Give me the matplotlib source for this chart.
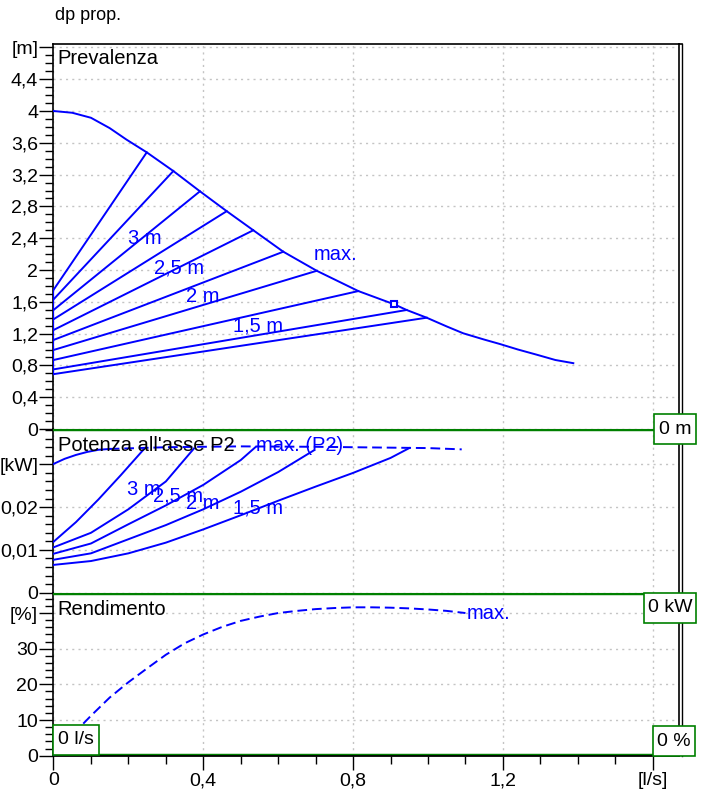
import matplotlib.pyplot as plt
from matplotlib.ticker import MultipleLocator, FixedLocator, FixedFormatter
from matplotlib.patches import Rectangle
from matplotlib.lines import Line2D

plt.rcParams['font.family'] = ['Liberation Sans', 'DejaVu Sans']

# ---- data ----
# head (Prevalenza), max curve
q_max = [0, 0.05, 0.1, 0.15, 0.195, 0.249, 0.32, 0.391, 0.4625, 0.5335,
         0.6136, 0.703, 0.814, 0.91, 0.943, 0.9965, 1.05, 1.094, 1.15,
         1.192, 1.24, 1.29, 1.34, 1.388]
h_max = [4.0, 3.978, 3.915, 3.785, 3.64, 3.48, 3.245, 2.99, 2.74, 2.50,
         2.23, 1.99, 1.735, 1.568, 1.497, 1.40, 1.29, 1.204, 1.125,
         1.069, 1.0, 0.935, 0.868, 0.828]
# proportional pressure lines: head at Q=0 and end point on max curve
h_start = [1.75, 1.63, 1.497, 1.38, 1.245, 1.12, 0.994, 0.868, 0.75, 0.69]
q_end = [0.249, 0.32, 0.391, 0.4625, 0.5335, 0.6136, 0.703, 0.814, 0.943, 0.9965]
h_end = [3.48, 3.245, 2.99, 2.74, 2.50, 2.23, 1.99, 1.735, 1.497, 1.40]
q_duty, h_duty = 0.91, 1.568
head_labels = ['3 m', '2,5 m', '2 m', '1,5 m', 'max.']
head_label_q = [0.2425, 0.336, 0.399, 0.546, 0.754]
head_label_h = [2.40, 2.03, 1.664, 1.296, 2.197]

# shaft power P2 [kW]
p2_max_solid_q = [0, 0.03, 0.06, 0.09, 0.12, 0.15]
p2_max_solid_p = [0.0301, 0.0313, 0.0322, 0.0329, 0.0334, 0.0336]
p2_max_dash_q = [0.15, 0.3, 0.5, 0.7, 0.9, 1.0, 1.09]
p2_max_dash_p = [0.0336, 0.0340, 0.0342, 0.0341, 0.0339, 0.0338, 0.0335]
p2_q = [[0, 0.06, 0.12, 0.18, 0.244],
        [0, 0.1, 0.2, 0.3, 0.375],
        [0, 0.1, 0.2, 0.3, 0.4, 0.5, 0.539],
        [0, 0.1, 0.2, 0.3, 0.4, 0.5, 0.6, 0.694],
        [0, 0.1, 0.2, 0.3, 0.4, 0.5, 0.6, 0.7, 0.8, 0.9, 0.95]]
p2_p = [[0.0119, 0.0165, 0.0218, 0.0275, 0.0338],
        [0.0106, 0.0140, 0.0195, 0.0260, 0.0337],
        [0.0091, 0.0115, 0.0160, 0.0204, 0.0252, 0.0310, 0.0340],
        [0.0077, 0.0092, 0.0125, 0.0158, 0.0195, 0.0236, 0.0282, 0.0332],
        [0.0065, 0.0074, 0.0092, 0.0117, 0.0148, 0.0181, 0.0215, 0.0248,
         0.0280, 0.0315, 0.0338]]
p2_labels = ['3 m', '2,5 m', '2 m', '1,5 m', 'max. (P2)']
p2_label_q = [0.24, 0.333, 0.398, 0.547, 0.658]
p2_label_p = [0.0242, 0.0225, 0.0208, 0.0198, 0.0344]

# efficiency [%]
eta_q = [0, 0.05, 0.1, 0.15, 0.2, 0.25, 0.3, 0.35, 0.4, 0.45, 0.5, 0.55,
         0.6, 0.65, 0.7, 0.75, 0.8, 0.85, 0.9, 0.95, 1.0, 1.05, 1.1]
eta = [0, 5.8, 11.2, 16.3, 20.6, 24.5, 28.3, 31.5, 34.0, 36.1, 37.8, 39.0,
       40.0, 40.6, 41.1, 41.4, 41.6, 41.6, 41.5, 41.3, 41.0, 40.6, 40.0]

# ticks
x_ticks = [0, 0.4, 0.8, 1.2, 1.6]
x_ticklabels = ['0', '0,4', '0,8', '1,2', '[l/s]']
h_ticks = [0, 0.4, 0.8, 1.2, 1.6, 2.0, 2.4, 2.8, 3.2, 3.6, 4.0, 4.4, 4.8]
h_ticklabels = ['0', '0,4', '0,8', '1,2', '1,6', '2', '2,4', '2,8', '3,2',
                '3,6', '4', '4,4', '[m]']
p_ticks = [0, 0.01, 0.02, 0.03]
p_ticklabels = ['0', '0,01', '0,02', '[kW]']
e_ticks = [0, 10, 20, 30, 40]
e_ticklabels = ['0', '10', '20', '30', '[%]']

W, H = 701, 791
BLUE = '#0000ff'
GREEN = '#008000'
FS = 14.5
TFS = 14


def fx(px):
    return px / W


def fy(py):
    return 1 - py / H


fig = plt.figure(figsize=(W / 100, H / 100), dpi=100)
left, right = 53.5, 679.3
ax_h = fig.add_axes([fx(left), fy(429), fx(right - left), (429 - 44) / H])
ax_p = fig.add_axes([fx(left), fy(592.7), fx(right - left), (592.7 - 429) / H])
ax_e = fig.add_axes([fx(left), fy(755.7), fx(right - left), (755.7 - 592.7) / H])

grid_kw = dict(color='#c4c4c4', lw=1, linestyle=(0, (1.5, 3)))
for ax in (ax_h, ax_p, ax_e):
    ax.set_xlim(0, 1.671)
    ax.xaxis.set_major_locator(FixedLocator(x_ticks))
    ax.xaxis.set_minor_locator(MultipleLocator(0.1))
    ax.grid(True, **grid_kw)
    ax.tick_params(axis='y', which='major', direction='out', length=10,
                   width=1, labelsize=TFS, pad=1)
    ax.tick_params(axis='y', which='minor', direction='out', length=6, width=1)
    ax.spines['left'].set_linewidth(1.2)
    ax.spines['right'].set_linewidth(1.2)
for ax in (ax_h, ax_p):
    ax.tick_params(axis='x', which='both', bottom=False, labelbottom=False)
    ax.spines['bottom'].set_color('#6a6a6a')
for ax in (ax_p, ax_e):
    ax.spines['top'].set_visible(False)
ax_h.spines['top'].set_linewidth(1.2)

# head panel
ax_h.set_ylim(0, 4.843)
ax_h.yaxis.set_major_locator(FixedLocator(h_ticks))
ax_h.yaxis.set_major_formatter(FixedFormatter(h_ticklabels))
ax_h.yaxis.set_minor_locator(MultipleLocator(0.1))
ax_h.plot(q_max, h_max, color=BLUE, lw=1.4, zorder=5)
for hs, qe, he in zip(h_start, q_end, h_end):
    ax_h.plot([0, qe], [hs, he], color=BLUE, lw=1.4, zorder=5)
ax_h.plot([0, 0], [min(h_start), max(h_start)], color=BLUE, lw=1.6, zorder=5)
ax_h.plot(q_duty, h_duty, marker='s', ms=5, mfc='white', mec=BLUE, mew=1.5,
          zorder=6)
for t, q, h in zip(head_labels, head_label_q, head_label_h):
    ax_h.text(q, h, t, color=BLUE, fontsize=FS, ha='center', va='center',
              zorder=7)

# power panel
ax_p.set_ylim(0, 0.03826)
ax_p.yaxis.set_major_locator(FixedLocator(p_ticks))
ax_p.yaxis.set_major_formatter(FixedFormatter(p_ticklabels))
ax_p.yaxis.set_minor_locator(MultipleLocator(0.002))
ax_p.axhline(0.03826, color=GREEN, lw=3.2, zorder=4)
ax_p.plot(p2_max_solid_q, p2_max_solid_p, color=BLUE, lw=1.4, zorder=5)
ax_p.plot(p2_max_dash_q, p2_max_dash_p, color=BLUE, lw=1.4, zorder=5,
          dashes=(5, 2.5))
for qs, ps in zip(p2_q, p2_p):
    ax_p.plot(qs, ps, color=BLUE, lw=1.4, zorder=5)
for t, q, p in zip(p2_labels, p2_label_q, p2_label_p):
    ax_p.text(q, p, t, color=BLUE, fontsize=FS, ha='center', va='center',
              zorder=7)

# efficiency panel
ax_e.set_ylim(0, 45.7)
ax_e.yaxis.set_major_locator(FixedLocator(e_ticks))
ax_e.yaxis.set_major_formatter(FixedFormatter(e_ticklabels))
ax_e.yaxis.set_minor_locator(MultipleLocator(2))
ax_e.axhline(45.7, color=GREEN, lw=3.2, zorder=4)
ax_e.axhline(0, color=GREEN, lw=3.2, zorder=2)
ax_e.plot(eta_q, eta, color=BLUE, lw=1.4, zorder=5, dashes=(5, 2.5))
ax_e.text(1.163, 40.0, 'max.', color=BLUE, fontsize=FS, ha='center',
          va='center', zorder=7)
ax_e.xaxis.set_major_formatter(FixedFormatter(x_ticklabels))
ax_e.tick_params(axis='x', which='major', direction='out', length=10,
                 width=1, labelsize=TFS, pad=2)
ax_e.tick_params(axis='x', which='minor', direction='out', length=6, width=1)
ax_e.spines['bottom'].set_linewidth(1.3)
ax_e.spines['bottom'].set_zorder(3)

# outer double line on the right
fig.add_artist(Line2D([fx(681.5), fx(681.5)], [fy(44), fy(756)],
                      color='black', lw=1))
fig.add_artist(Line2D([fx(679.3), fx(681.5)], [fy(44), fy(44)],
                      color='black', lw=1.2))

# panel titles
fig.text(fx(55), fy(15), 'dp prop.', fontsize=13, va='center')
fig.text(fx(57), fy(58), 'Prevalenza', fontsize=FS, va='center', zorder=3)
fig.text(fx(57.5), fy(445.5), "Potenza all'asse P2", fontsize=FS,
         va='center', zorder=1)
fig.text(fx(57.5), fy(609.5), 'Rendimento', fontsize=FS, va='center')

# green marker boxes
boxes = [(654.3, 414.3, 696, 443.7, '0 m'),
         (644.3, 593.3, 696, 622.7, '0 kW'),
         (53.3, 725, 99.3, 755, '0 l/s'),
         (653.3, 726, 695, 756, '0 %')]
for x0, y0, x1, y1, t in boxes:
    fig.add_artist(Rectangle((fx(x0), fy(y1)), fx(x1 - x0), (y1 - y0) / H,
                             facecolor='white', edgecolor=GREEN, lw=1.2,
                             zorder=10))
    fig.text(fx((x0 + x1) / 2), fy((y0 + y1) / 2), t, fontsize=TFS,
             ha='center', va='center', zorder=11)

fig.savefig('out.png', dpi=100)
